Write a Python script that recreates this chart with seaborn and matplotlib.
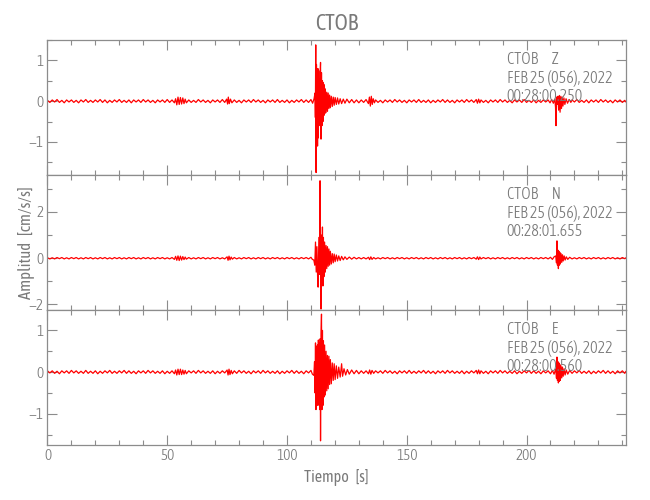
import os
import matplotlib
matplotlib.use("Agg")
import matplotlib.pyplot as plt
import matplotlib.font_manager as fm
from matplotlib.ticker import MultipleLocator
import seaborn as sns
import pandas as pd

# ---------------- data ----------------
station = "CTOB"
date_line = "FEB 25 (056), 2022"
components = ["Z", "N", "E"]
start_times = ["00:28:00.250", "00:28:01.655", "00:28:00.560"]
x_ticks = [0, 50, 100, 150, 200]
x_limits = (0, 241.5)
y_limits = [(-1.81, 1.50), (-2.24, 3.60), (-1.75, 1.49)]
y_major = [1, 2, 1]
y_minor = [0.5, 1, 0.5]

# (time [s], acceleration [cm/s/s]) samples, vertical component
z_samples = [
    (0, .02), (1, -.03), (2, .03), (3, -.02), (4, .04), (5, -.03), (6, .02), (7, -.04), (8, .03), (9, -.02),
    (10, .03), (11, -.03), (12, .02), (13, -.04), (14, .03), (15, -.02), (16, .04), (17, -.03), (18, .02),
    (19, -.03), (20, .03), (21, -.02), (22, .04), (23, -.03), (24, .03), (25, -.04), (26, .02), (27, -.03),
    (28, .03), (29, -.02), (30, .04), (31, -.03), (32, .02), (33, -.03), (34, .03), (35, -.04), (36, .03),
    (37, -.02), (38, .03), (39, -.03), (40, .04), (41, -.02), (42, .03), (43, -.03), (44, .02), (45, -.04),
    (46, .03), (47, -.02), (48, .03), (49, -.03), (50, .04), (51, -.03), (52, .03),
    (53, -.04), (53.5, .06), (54, -.09), (54.5, .10), (55, -.08), (55.5, .09), (56, -.07), (56.5, .08),
    (57, -.06), (57.5, .05), (58, -.04), (59, .03),
    (60, -.03), (61, .02), (62, -.03), (63, .04), (64, -.02), (65, .03), (66, -.03), (67, .02), (68, -.04),
    (69, .03), (70, -.02), (71, .03), (72, -.03), (73, .04), (74, -.03),
    (74.8, .05), (75.2, -.07), (75.5, .10), (75.9, -.06), (76.4, .05), (77, -.04), (78, .03),
    (79, -.03), (80, .02), (81, -.04), (82, .03), (83, -.02), (84, .03), (85, -.03), (86, .04), (87, -.02),
    (88, .03), (89, -.03), (90, .02), (91, -.04), (92, .03), (93, -.02), (94, .03), (95, -.03), (96, .04),
    (97, -.03), (98, .02), (99, -.03), (100, .03), (101, -.04), (102, .02), (103, -.03), (104, .03),
    (105, -.02), (106, .04), (107, -.03), (108, .03), (109, -.03), (110, .04), (110.7, -.05),
    (111.3, .06), (111.7, .20), (111.85, -.40),
    (112.0, 1.38), (112.15, -1.75), (112.3, .90), (112.45, -.80), (112.6, .60), (112.75, -1.10),
    (112.9, .80), (113.05, -.90), (113.2, .75), (113.35, -.60), (113.5, .55), (113.7, -.50),
    (113.85, .70), (114.0, .95), (114.2, -.93), (114.4, .70), (114.6, -.60), (114.8, .50),
    (115.0, -.50), (115.2, .45), (115.4, -.35), (115.6, .40), (115.8, -.30), (116.0, .30),
    (116.3, -.28), (116.6, .22), (116.9, -.25), (117.2, .20), (117.5, -.18), (117.8, .15),
    (118.1, -.16), (118.5, .12), (118.9, -.13), (119.3, .10), (119.7, -.10), (120.1, .09),
    (120.6, -.08), (121.1, .08), (121.6, -.07), (122.2, .06), (122.8, -.06), (123.5, .05),
    (124.2, -.05), (125, .05), (126, -.04), (127, .04), (128, -.04), (129, .03), (130, -.04),
    (131, .03), (132, -.03), (133, .04),
    (134, -.06), (134.4, .10), (134.8, -.12), (135.2, .12), (135.6, -.08), (136, .06), (136.5, -.04),
    (137, .03), (138, -.03), (139, .02), (140, -.04), (141, .03), (142, -.02), (143, .03), (144, -.03),
    (145, .04), (146, -.02), (147, .03), (148, -.03), (149, .02), (150, -.04), (151, .03), (152, -.02),
    (153, .03), (154, -.03), (155, .04), (156, -.03), (157, .02), (158, -.03), (159, .03), (160, -.04),
    (161, .02), (162, -.03), (163, .03), (164, -.02), (165, .04), (166, -.03), (167, .03), (168, -.03),
    (169, .02), (170, -.04), (171, .03), (172, -.02), (173, .03), (174, -.03), (175, .04), (176, -.02),
    (177, .03), (178, -.03),
    (179, .04), (179.5, -.05), (180, .05), (180.5, -.04), (181, .03),
    (182, -.03), (183, .02), (184, -.04), (185, .03), (186, -.02), (187, .03), (188, -.03), (189, .04),
    (190, -.02), (191, .03), (192, -.03), (193, .02), (194, -.04), (195, .03), (196, -.02), (197, .03),
    (198, -.03), (199, .04), (200, -.03), (201, .02), (202, -.03), (203, .03), (204, -.04), (205, .02),
    (206, -.03), (207, .03), (208, -.02), (209, .03),
    (209.8, -.04), (210.5, .04), (211.2, -.05), (211.8, .05), (212.1, -.15), (212.3, -.60), (212.5, .10),
    (212.8, -.08), (213.1, .12), (213.4, -.22), (213.7, .14), (214.0, -.27), (214.3, .12),
    (214.6, -.18), (214.9, .10), (215.2, -.12), (215.6, .08), (216.0, -.08), (216.5, .06),
    (217.1, -.05), (217.8, .04), (218.5, -.03),
    (219, .03), (220, -.02), (221, .04), (222, -.03), (223, .02), (224, -.03), (225, .03), (226, -.04),
    (227, .03), (228, -.02), (229, .03), (230, -.03), (231, .04), (232, -.02), (233, .03), (234, -.03),
    (235, .02), (236, -.04), (237, .03), (238, -.02), (239, .03), (240, -.03), (241, .02), (241.5, -.02),
]

# north component
n_samples = [
    (0, .02), (1, -.03), (2, .02), (3, -.03), (4, .03), (5, -.02), (6, .03), (7, -.03), (8, .02), (9, -.03),
    (10, .03), (11, -.02), (12, .03), (13, -.03), (14, .02), (15, -.03), (16, .03), (17, -.02), (18, .03),
    (19, -.03), (20, .02), (21, -.03), (22, .03), (23, -.02), (24, .03), (25, -.03), (26, .02), (27, -.03),
    (28, .03), (29, -.02), (30, .03), (31, -.03), (32, .02), (33, -.03), (34, .03), (35, -.02), (36, .03),
    (37, -.03), (38, .02), (39, -.03), (40, .03), (41, -.02), (42, .03), (43, -.03), (44, .02), (45, -.03),
    (46, .03), (47, -.02), (48, .03), (49, -.03), (50, .02), (51, -.03), (52, .03),
    (53, -.05), (53.5, .08), (54, -.09), (54.5, .10), (55, -.10), (55.5, .09), (56, -.08), (56.5, .07),
    (57, -.06), (57.5, .05), (58, -.04), (59, .03),
    (60, -.03), (61, .02), (62, -.03), (63, .03), (64, -.02), (65, .03), (66, -.03), (67, .02), (68, -.03),
    (69, .03), (70, -.02), (71, .03), (72, -.03), (73, .02), (74, -.03),
    (75, .06), (75.4, -.09), (75.8, .09), (76.2, -.07), (76.7, .05), (77.2, -.04), (78, .03),
    (79, -.03), (80, .02), (81, -.03), (82, .03), (83, -.02), (84, .03), (85, -.03), (86, .02), (87, -.03),
    (88, .03), (89, -.02), (90, .03), (91, -.03), (92, .02), (93, -.03), (94, .03), (95, -.02), (96, .03),
    (97, -.03), (98, .02), (99, -.03), (100, .03), (101, -.02), (102, .03), (103, -.03), (104, .02),
    (105, -.03), (106, .03), (107, -.02), (108, .03), (109, -.03), (110, .04), (110.6, -.05),
    (111.2, -.08), (111.6, -.30), (111.9, .70), (112.2, -.60), (112.5, .50), (112.8, -.90),
    (113.0, -1.25), (113.3, .90), (113.6, -.70), (113.8, 3.35), (114.05, -1.00), (114.2, -2.20),
    (114.4, 1.00), (114.6, -.90), (114.8, 1.35), (115.0, -1.20), (115.2, .90), (115.4, -.80),
    (115.7, .70), (116.0, -.60), (116.3, .55), (116.6, -.45), (116.9, .50), (117.2, -.35),
    (117.5, .40), (117.8, -.30), (118.1, .30), (118.5, -.25), (118.9, .20), (119.3, -.20),
    (119.7, .18), (120.1, -.15), (120.6, .14), (121.1, -.12), (121.6, .10), (122.2, -.10),
    (122.8, .08), (123.5, -.07), (124.2, .06), (125, -.05), (126, .05), (127, -.04), (128, .04),
    (129, -.03), (130, .03), (131, -.03), (132, .03), (133, -.03),
    (134, .04), (134.5, -.06), (135, .06), (135.5, -.05), (136.2, .03),
    (137, -.03), (138, .02), (139, -.03), (140, .03), (141, -.02), (142, .03), (143, -.03), (144, .02),
    (145, -.03), (146, .03), (147, -.02), (148, .03), (149, -.03), (150, .02), (151, -.03), (152, .03),
    (153, -.02), (154, .03), (155, -.03), (156, .02), (157, -.03), (158, .03), (159, -.02), (160, .03),
    (161, -.03), (162, .02), (163, -.03), (164, .03), (165, -.02), (166, .03), (167, -.03), (168, .02),
    (169, -.03), (170, .03), (171, -.02), (172, .03), (173, -.03), (174, .02), (175, -.03), (176, .03),
    (177, -.02), (178, .03),
    (179, -.04), (179.5, .06), (180, -.06), (180.5, .05), (181, -.03),
    (182, .03), (183, -.02), (184, .03), (185, -.03), (186, .02), (187, -.03), (188, .03), (189, -.02),
    (190, .03), (191, -.03), (192, .02), (193, -.03), (194, .03), (195, -.02), (196, .03), (197, -.03),
    (198, .02), (199, -.03), (200, .03), (201, -.02), (202, .03), (203, -.03), (204, .02), (205, -.03),
    (206, .03), (207, -.02), (208, .03), (209, -.03),
    (210, .04), (210.8, -.05), (211.5, .06), (212.2, .10), (212.5, -.20), (212.7, .75), (212.9, -.30),
    (213.1, .35), (213.3, -.45), (213.5, .30), (213.7, -.30), (213.9, .25), (214.1, -.25),
    (214.4, .20), (214.7, -.18), (215.0, .15), (215.3, -.12), (215.7, .10), (216.1, -.08),
    (216.6, .06), (217.2, -.05), (218, .04),
    (219, -.03), (220, .02), (221, -.03), (222, .03), (223, -.02), (224, .03), (225, -.03), (226, .02),
    (227, -.03), (228, .03), (229, -.02), (230, .03), (231, -.03), (232, .02), (233, -.03), (234, .03),
    (235, -.02), (236, .03), (237, -.03), (238, .02), (239, -.03), (240, .03), (241, -.02), (241.5, .02),
]

# east component
e_samples = [
    (0, .03), (1, -.02), (2, .03), (3, -.03), (4, .02), (5, -.04), (6, .03), (7, -.02), (8, .03), (9, -.03),
    (10, .04), (11, -.02), (12, .03), (13, -.03), (14, .02), (15, -.03), (16, .04), (17, -.03), (18, .02),
    (19, -.03), (20, .03), (21, -.04), (22, .02), (23, -.03), (24, .03), (25, -.02), (26, .04), (27, -.03),
    (28, .02), (29, -.03), (30, .03), (31, -.02), (32, .04), (33, -.03), (34, .03), (35, -.03), (36, .02),
    (37, -.04), (38, .03), (39, -.02), (40, .03), (41, -.03), (42, .04), (43, -.02), (44, .03), (45, -.03),
    (46, .02), (47, -.03), (48, .03), (49, -.04), (50, .02), (51, -.03), (52, .03),
    (53, -.04), (53.5, .05), (54, -.07), (54.5, .07), (55, -.06), (55.5, .07), (56, -.06), (56.5, .05),
    (57, -.05), (57.5, .04), (58, -.04), (59, .03),
    (60, -.02), (61, .03), (62, -.03), (63, .04), (64, -.02), (65, .03), (66, -.03), (67, .02), (68, -.03),
    (69, .03), (70, -.04), (71, .02), (72, -.03), (73, .03), (74, -.02),
    (75, .05), (75.4, -.07), (75.8, .07), (76.2, -.06), (76.7, .04), (77.2, -.04), (78, .03),
    (79, -.03), (80, .04), (81, -.02), (82, .03), (83, -.03), (84, .02), (85, -.04), (86, .03), (87, -.02),
    (88, .03), (89, -.03), (90, .04), (91, -.02), (92, .03), (93, -.03), (94, .02), (95, -.03), (96, .03),
    (97, -.04), (98, .02), (99, -.03), (100, .03), (101, -.02), (102, .04), (103, -.03), (104, .03),
    (105, -.03), (106, .02), (107, -.04), (108, .03), (109, -.02), (110, .04), (110.6, -.05),
    (111.2, -.08), (111.5, .25), (111.7, -.50), (111.9, .70), (112.1, -.90), (112.3, .60),
    (112.5, -.70), (112.7, .65), (112.9, -.80), (113.1, .77), (113.3, -.60), (113.5, .70),
    (113.7, -.90), (113.85, .80), (114.0, -1.65), (114.2, .90), (114.4, 1.39), (114.6, -.90),
    (114.8, 1.00), (115.0, -.80), (115.2, .75), (115.4, -.60), (115.7, .65), (116.0, -.55),
    (116.3, .50), (116.6, -.45), (116.9, .40), (117.2, -.40), (117.5, .38), (117.8, -.30),
    (118.1, .30), (118.5, -.28), (118.9, .22), (119.3, -.20), (119.7, .20), (120.1, -.18),
    (120.6, .15), (121.1, -.15), (121.6, .12), (122.2, -.12), (122.8, .20), (123.2, -.10),
    (123.8, .08), (124.5, -.07), (125.2, .06), (126, -.05), (127, .05), (128, -.04), (129, .04),
    (130, -.04), (131, .03), (132, -.03), (133, .03),
    (134, -.04), (134.5, .05), (135, -.05), (135.5, .04), (136.2, -.03),
    (137, .03), (138, -.02), (139, .03), (140, -.03), (141, .04), (142, -.02), (143, .03), (144, -.03),
    (145, .02), (146, -.04), (147, .03), (148, -.02), (149, .03), (150, -.03), (151, .04), (152, -.03),
    (153, .02), (154, -.03), (155, .03), (156, -.02), (157, .04), (158, -.03), (159, .03), (160, -.03),
    (161, .02), (162, -.04), (163, .03), (164, -.02), (165, .03), (166, -.03), (167, .04), (168, -.02),
    (169, .03), (170, -.03), (171, .02), (172, -.03), (173, .03), (174, -.04), (175, .02), (176, -.03),
    (177, .03), (178, -.02),
    (179, .04), (179.5, -.04), (180, .05), (180.5, -.04), (181, .03),
    (182, -.03), (183, .02), (184, -.04), (185, .03), (186, -.02), (187, .03), (188, -.03), (189, .04),
    (190, -.02), (191, .03), (192, -.03), (193, .02), (194, -.03), (195, .03), (196, -.04), (197, .02),
    (198, -.03), (199, .03), (200, -.02), (201, .04), (202, -.03), (203, .03), (204, -.03), (205, .02),
    (206, -.04), (207, .03), (208, -.02), (209, .03),
    (210, -.04), (210.8, .04), (211.5, -.05), (212.2, .08), (212.5, -.15), (212.7, .36), (212.9, -.20),
    (213.1, .25), (213.3, -.26), (213.5, .22), (213.7, -.22), (213.9, .18), (214.1, -.20),
    (214.4, .15), (214.7, -.14), (215.0, .12), (215.3, -.10), (215.7, .08), (216.1, -.07),
    (216.6, .05), (217.2, -.05), (218, .04),
    (219, -.03), (220, .03), (221, -.02), (222, .04), (223, -.03), (224, .02), (225, -.03), (226, .03),
    (227, -.04), (228, .02), (229, -.03), (230, .03), (231, -.02), (232, .04), (233, -.03), (234, .03),
    (235, -.03), (236, .02), (237, -.04), (238, .03), (239, -.02), (240, .03), (241, -.03), (241.5, .02),
]

traces = [z_samples, n_samples, e_samples]


# ---------------- style ----------------
def pick_narrow_font():
    best = None
    for f in fm.fontManager.ttflist:
        fn = os.path.basename(f.fname).lower()
        nm = f.name.lower()
        narrow = ("condensed" in nm or "narrow" in nm or "condensed" in fn or "narrow" in fn
                  or f.stretch in ("condensed", "semi-condensed"))
        if not narrow or f.style != "normal":
            continue
        if "italic" in fn or "oblique" in fn or "mono" in nm or "cjk" in nm:
            continue
        if "extracondensed" in fn or "extra-condensed" in fn or "ultracondensed" in fn:
            continue
        w = f.weight if isinstance(f.weight, int) else fm.weight_dict.get(f.weight, 400)
        score = abs(w - 320)
        if best is None or score < best[0]:
            best = (score, f)
    return best[1] if best else None


sns.set_theme(style="ticks")
narrow = pick_narrow_font()
if narrow is not None:
    plt.rcParams["font.family"] = [narrow.name, "DejaVu Sans"]
    plt.rcParams["font.stretch"] = narrow.stretch
    plt.rcParams["font.weight"] = narrow.weight
    scale = 1.0
else:
    plt.rcParams["font.family"] = ["DejaVu Sans"]
    scale = 0.85

gray = "#8c8c8c"
txt = "#7a7a7a"
plt.rcParams.update({
    "axes.edgecolor": gray, "xtick.color": gray, "ytick.color": gray,
    "xtick.labelcolor": txt, "ytick.labelcolor": txt, "axes.linewidth": 0.9,
})

fig, axes = plt.subplots(3, 1, figsize=(6.5, 5.0), dpi=100, sharex=True)
fig.subplots_adjust(left=0.073, right=0.963, bottom=0.11, top=0.92, hspace=0)

for i, ax in enumerate(axes):
    df = pd.DataFrame(traces[i], columns=["t", "a"])
    sns.lineplot(data=df, x="t", y="a", ax=ax, color="#ff0000", linewidth=0.9,
                 sort=False, estimator=None, legend=False)
    ax.set_xlim(*x_limits)
    ax.set_ylim(*y_limits[i])
    ax.set_xticks(x_ticks)
    ax.xaxis.set_minor_locator(MultipleLocator(10))
    ax.yaxis.set_major_locator(MultipleLocator(y_major[i]))
    ax.yaxis.set_minor_locator(MultipleLocator(y_minor[i]))
    ax.tick_params(which="both", direction="in", top=True, right=True, width=0.8,
                   labelsize=11 * scale)
    ax.tick_params(which="major", length=7.2, pad=3)
    ax.tick_params(which="minor", length=3.6)
    ax.set_xlabel("")
    ax.set_ylabel("")
    for s in ax.spines.values():
        s.set_visible(True)
    ax.text(0.794, 0.915,
            f"{station}      {components[i]}\n{date_line}\n{start_times[i]}",
            transform=ax.transAxes, ha="left", va="top", color=txt,
            fontsize=11.5 * scale, linespacing=1.1)

axes[0].set_title(station, color=txt, fontsize=16 * scale, pad=7)
axes[1].set_ylabel("Amplitud   [cm/s/s]", color=txt, fontsize=12 * scale)
axes[1].yaxis.set_label_coords(-0.021, 0.5)
axes[2].set_xlabel("Tiempo   [s]", color=txt, fontsize=11.5 * scale, labelpad=4)

fig.savefig("out.png", dpi=100)
